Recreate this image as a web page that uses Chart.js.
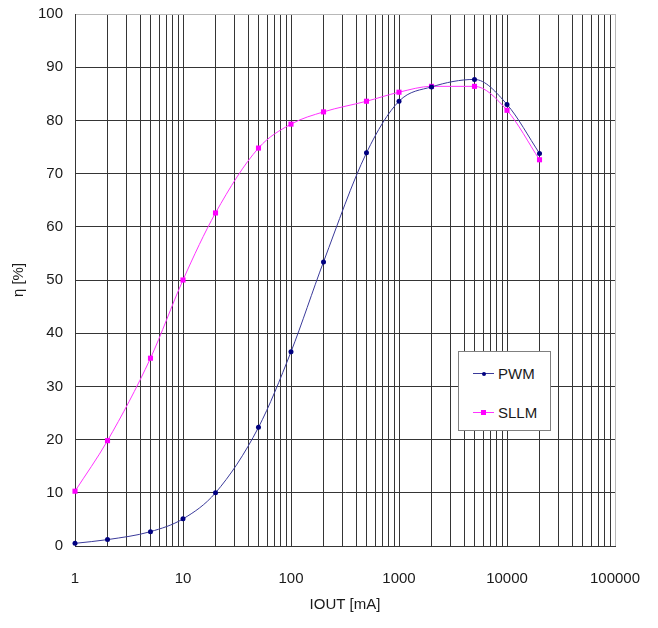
<!DOCTYPE html>
<html>
<head>
<meta charset="utf-8">
<script src="https://cdn.jsdelivr.net/npm/chart.js@4/dist/chart.umd.min.js"></script>
<style>
  html, body { margin: 0; padding: 0; background: #fff; }
  #wrap { position: relative; width: 658px; height: 628px; }
  #legend {
    position: absolute; left: 458px; top: 351px; width: 93px; height: 80px;
    background: #fff; border: 1px solid #808080; box-sizing: border-box;
    font-family: "Liberation Sans", Arial, sans-serif; font-size: 15px; color: #1a1a1a;
  }
  .item { position: absolute; left: 14px; height: 18px; display: flex; align-items: center; }
  .sample { position: relative; width: 21px; height: 18px; margin-right: 4px; }
  .sample .ln { position: absolute; left: 0; right: 0; top: 9px; height: 1px; }
  .sample .mk { position: absolute; }
</style>
</head>
<body>
<div id="wrap">
  <canvas id="c" width="658" height="628"></canvas>
  <div id="legend"></div>
</div>
<script>
// ---- data ----
const currents = [1, 2, 5, 10, 20, 50, 100, 200, 500, 1000, 2000, 5000, 10000, 20000];
const pwm      = [0.5, 1.2, 2.7, 5.1, 10.0, 22.3, 36.5, 53.4, 73.9, 83.6, 86.3, 87.7, 83.0, 73.8];
const sllm     = [10.3, 19.8, 35.3, 50.0, 62.6, 74.8, 79.3, 81.6, 83.6, 85.3, 86.4, 86.4, 81.9, 72.6];
const seriesNames = ['PWM', 'SLLM'];
const xDecades = [1, 10, 100, 1000, 10000, 100000];
const xTickLabels = ['1', '10', '100', '1000', '10000', '100000'];
const yTicks = [0, 10, 20, 30, 40, 50, 60, 70, 80, 90, 100];
const xTitle = 'IOUT [mA]';
const yTitle = 'η [%]';

const colors = { PWM: '#000080', SLLM: '#ff00ff' };
const lineColors = { PWM: '#3a3a9a', SLLM: '#ff33ff' };

// all log grid positions 1..9 x 10^k
const xGridValues = [];
for (let d = 0; d < xDecades.length - 1; d++) {
  for (let m = 1; m <= 9; m++) xGridValues.push(m * xDecades[d]);
}
xGridValues.push(xDecades[xDecades.length - 1]);

const FONT = "'Liberation Sans', Arial, sans-serif";
const TXT = '#1a1a1a';
const GRID = '#353535';
const EDGE = '#b8b8b8';

function pts(vals) { return currents.map((c, i) => ({ x: c, y: vals[i] })); }

const datasets = [
  {
    label: seriesNames[0], data: pts(pwm),
    borderColor: lineColors.PWM, backgroundColor: colors.PWM,
    pointBackgroundColor: colors.PWM, pointBorderColor: colors.PWM,
    borderWidth: 1, pointStyle: 'circle', pointRadius: 2.5, pointBorderWidth: 0,
    cubicInterpolationMode: 'monotone', clip: false
  },
  {
    label: seriesNames[1], data: pts(sllm),
    borderColor: lineColors.SLLM, backgroundColor: colors.SLLM,
    pointBackgroundColor: colors.SLLM, pointBorderColor: colors.SLLM,
    borderWidth: 1, pointStyle: 'rect', pointRadius: 3.6, pointBorderWidth: 0,
    cubicInterpolationMode: 'monotone', clip: false
  }
];

new Chart(document.getElementById('c'), {
  type: 'line',
  data: { datasets },
  options: {
    responsive: false,
    animation: false,
    devicePixelRatio: 1,
    layout: { padding: { left: 0, top: 14, right: 43, bottom: 0 } },
    plugins: { legend: { display: false }, tooltip: { enabled: false } },
    scales: {
      x: {
        type: 'logarithmic', min: 1, max: 100000,
        afterBuildTicks: (s) => { s.ticks = xGridValues.map(v => ({ value: v })); },
        afterFit: (s) => { s.height = 82; s.paddingLeft = 0; s.paddingRight = 0; },
        ticks: {
          autoSkip: false, maxRotation: 0, minRotation: 0, padding: 24,
          color: TXT, font: { family: FONT, size: 15 },
          callback: (v) => { const i = xDecades.indexOf(v); return i >= 0 ? xTickLabels[i] : ''; }
        },
        grid: {
          drawTicks: false, lineWidth: 1,
          color: (ctx) => (ctx.tick && ctx.tick.value === 100000) ? EDGE : GRID
        },
        border: { display: true, color: GRID, width: 1 },
        title: {
          display: true, text: xTitle, color: TXT,
          font: { family: FONT, size: 15 }, padding: { top: 0, bottom: 14 }
        }
      },
      y: {
        type: 'linear', min: 0, max: 100,
        afterBuildTicks: (s) => { s.ticks = yTicks.map(v => ({ value: v })); },
        afterFit: (s) => { s.width = 75; s.paddingTop = 0; s.paddingBottom = 0; },
        ticks: {
          padding: 12, color: TXT, font: { family: FONT, size: 15 },
          callback: (v) => String(v)
        },
        grid: {
          drawTicks: false, lineWidth: 1,
          color: (ctx) => (ctx.tick && ctx.tick.value === 100) ? EDGE : GRID
        },
        border: { display: true, color: GRID, width: 1 },
        title: {
          display: true, text: yTitle, color: TXT,
          font: { family: FONT, size: 15 }, padding: { top: 10, bottom: 0 }
        }
      }
    }
  }
});

// HTML legend built from the series
const legend = document.getElementById('legend');
seriesNames.forEach((name, i) => {
  const it = document.createElement('div');
  it.className = 'item';
  it.style.top = (i === 0 ? 12 : 51) + 'px';
  const s = document.createElement('span');
  s.className = 'sample';
  const ln = document.createElement('span');
  ln.className = 'ln'; ln.style.background = lineColors[name];
  const mk = document.createElement('span');
  mk.className = 'mk';
  mk.style.background = colors[name];
  if (name === 'PWM') {
    mk.style.width = '4px'; mk.style.height = '4px'; mk.style.borderRadius = '50%';
    mk.style.left = '9px'; mk.style.top = '7.5px';
  } else {
    mk.style.width = '5px'; mk.style.height = '5px';
    mk.style.left = '8px'; mk.style.top = '7px';
  }
  s.appendChild(ln); s.appendChild(mk);
  const t = document.createElement('span');
  t.textContent = name;
  it.appendChild(s); it.appendChild(t);
  legend.appendChild(it);
});
</script>
</body>
</html>
